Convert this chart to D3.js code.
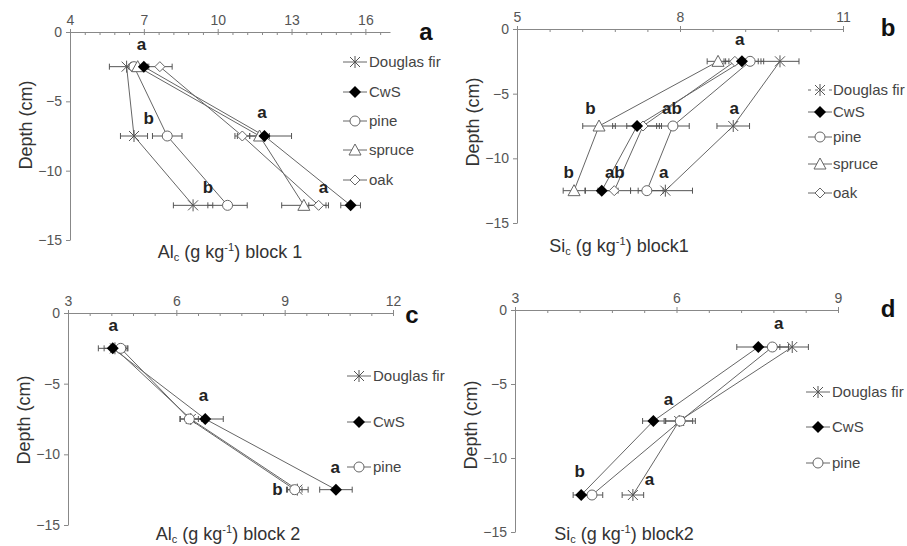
<!DOCTYPE html>
<html>
<head>
<meta charset="utf-8">
<script src="https://cdn.jsdelivr.net/npm/d3@7"></script>
<style>
  body { margin: 0; background: #fff; }
  text { font-family: "Liberation Sans", Arial, sans-serif; }
</style>
</head>
<body>
<div id="container"></div>
<script>
/* DATA */
const depths = [-2.5, -7.5, -12.5];
const yTicks = [0, -5, -10, -15];

// panel a: Al_c block 1
const aTicks = [4, 7, 10, 13, 16];
const aSeries = ["Douglas fir", "CwS", "pine", "spruce", "oak"];
const aDouglas = [6.3, 6.6, 9.0], aDouglasErr = [0.7, 0.55, 0.8];
const aCwS = [7.0, 11.9, 15.4], aCwSErr = [0.2, 1.1, 0.4];
const aPine = [6.6, 7.95, 10.4], aPineErr = [0.2, 0.6, 0.8];
const aSpruce = [6.75, 11.7, 13.5], aSpruceErr = [0.2, 0.4, 0.9];
const aOak = [7.65, 11.0, 14.1], aOakErr = [0.5, 0.3, 0.4];
const aLetters = [["a", 6.9, -1.3], ["a", 11.8, -6.2], ["b", 7.2, -6.6], ["b", 9.6, -11.6], ["a", 14.3, -11.6]];

// panel b: Si_c block 1
const bTicks = [5, 8, 11];
const bSeries = ["Douglas fir", "CwS", "pine", "spruce", "oak"];
const bDouglas = [9.84, 8.98, 7.73], bDouglasErr = [0.35, 0.3, 0.5];
const bCwS = [9.14, 7.21, 6.56], bCwSErr = [0.3, 0.45, 0.3];
const bPine = [9.29, 7.87, 7.39], bPineErr = [0.25, 0.3, 0.3];
const bSpruce = [8.70, 6.51, 6.05], bSpruceErr = [0.2, 0.3, 0.2];
const bOak = [9.01, 7.32, 6.79], bOakErr = [0.2, 0.3, 0.3];
const bLetters = [["a", 9.1, -1.2], ["b", 6.35, -6.6], ["ab", 7.85, -6.6], ["a", 9.0, -6.6], ["b", 5.95, -11.5], ["ab", 6.8, -11.5], ["a", 7.7, -11.5]];

// panel c: Al_c block 2
const cTicks = [3, 6, 9, 12];
const cSeries = ["Douglas fir", "CwS", "pine"];
const cDouglas = [4.3, 6.4, 9.35], cDouglasErr = [0.3, 0.3, 0.3];
const cCwS = [4.24, 6.8, 10.42], cCwSErr = [0.4, 0.5, 0.45];
const cPine = [4.46, 6.36, 9.28], cPineErr = [0.2, 0.25, 0.2];
const cLetters = [["a", 4.25, -1.3], ["a", 6.75, -6.2], ["a", 10.4, -11.3], ["b", 8.8, -12.9]];

// panel d: Si_c block 2
const dTicks = [3, 6, 9];
const dSeries = ["Douglas fir", "CwS", "pine"];
const dDouglas = [8.15, 6.05, 5.19], dDouglasErr = [0.3, 0.25, 0.2];
const dCwS = [7.52, 5.57, 4.23], dCwSErr = [0.4, 0.2, 0.15];
const dPine = [7.78, 6.07, 4.43], dPineErr = [0.3, 0.28, 0.2];
const dLetters = [["a", 7.9, -1.3], ["a", 5.85, -6.4], ["b", 4.2, -11.3], ["a", 5.5, -11.8]];

/* LAYOUT */
const width = 907, height = 546;
const panels = [
  { id: "a", ticks: aTicks, series: aSeries, vals: [aDouglas, aCwS, aPine, aSpruce, aOak],
    errs: [aDouglasErr, aCwSErr, aPineErr, aSpruceErr, aOakErr], letters: aLetters,
    xDom: [4, 17], xR: [70, 390], yR: [32, 240], el: "Al", eb: " block 1",
    titleX: 230, titleY: 258, depthY: 125, legX: 355, legTx: 14, legY: [62, 92, 121, 150, 180], tagX: 426, tagY: 40 },
  { id: "b", ticks: bTicks, series: bSeries, vals: [bDouglas, bCwS, bPine, bSpruce, bOak],
    errs: [bDouglasErr, bCwSErr, bPineErr, bSpruceErr, bOakErr], letters: bLetters,
    xDom: [5, 11], xR: [517, 843], yR: [29, 223], el: "Si", eb: " block1",
    titleX: 619, titleY: 252, depthY: 122, legX: 820, legTx: 13, legY: [90, 112, 137, 164, 193], tagX: 888, tagY: 36 },
  { id: "c", ticks: cTicks, series: cSeries, vals: [cDouglas, cCwS, cPine],
    errs: [cDouglasErr, cCwSErr, cPineErr], letters: cLetters,
    xDom: [3, 12], xR: [68, 393], yR: [313, 525], el: "Al", eb: " block 2",
    titleX: 228, titleY: 540, depthY: 420, legX: 359, legTx: 14, legY: [376, 422, 467], tagX: 412, tagY: 323 },
  { id: "d", ticks: dTicks, series: dSeries, vals: [dDouglas, dCwS, dPine],
    errs: [dDouglasErr, dCwSErr, dPineErr], letters: dLetters,
    xDom: [3, 9], xR: [515, 838], yR: [310, 532], el: "Si", eb: " block2",
    titleX: 624, titleY: 540, depthY: 425, legX: 818, legTx: 14, legY: [392, 427, 463], tagX: 888, tagY: 317 }
];

const lineCol = "#666", axisCol = "#888", textCol = "#333";

const svg = d3.select("#container")
  .append("svg")
  .attr("width", width)
  .attr("height", height);

// markers drawn at (0,0)
function marker(g, name) {
  if (name === "Douglas fir") {
    g.append("path").attr("d", "M-5,-5L5,5M-5,5L5,-5M0,-6L0,6")
      .attr("stroke", "#555").attr("fill", "none");
  } else if (name === "CwS") {
    g.append("path").attr("d", "M0,-6L6,0L0,6L-6,0Z").attr("fill", "#000");
  } else if (name === "pine") {
    g.append("circle").attr("r", 5).attr("fill", "#fff").attr("stroke", "#666");
  } else if (name === "spruce") {
    g.append("path").attr("d", "M0,-6L6,5L-6,5Z").attr("fill", "#fff").attr("stroke", "#666");
  } else if (name === "oak") {
    g.append("path").attr("d", "M0,-5L5,0L0,5L-5,0Z").attr("fill", "#fff").attr("stroke", "#666");
  }
}

panels.forEach(p => {
  const x = d3.scaleLinear().domain(p.xDom).range(p.xR);
  const y = d3.scaleLinear().domain([0, -15]).range(p.yR);
  const g = svg.append("g");

  // x axis at top
  const step = p.ticks[1] - p.ticks[0];
  const minor = d3.range(p.xDom[0], p.xDom[1] + 0.01, step / 5);
  g.append("g")
    .attr("transform", `translate(0,${p.yR[0]})`)
    .call(d3.axisTop(x).tickValues(minor).tickSize(-3).tickFormat(""))
    .call(a => a.select(".domain").remove())
    .selectAll("line").attr("stroke", axisCol);
  const xa = g.append("g")
    .attr("transform", `translate(0,${p.yR[0]})`)
    .call(d3.axisTop(x).tickValues(p.ticks).tickFormat(d3.format("d"))
      .tickSizeInner(3).tickSizeOuter(0).tickPadding(4));
  xa.select(".domain").attr("stroke", axisCol);
  xa.selectAll("line").attr("stroke", axisCol);
  xa.selectAll("text").attr("fill", "#555").style("font-size", "14px");

  // y axis
  const ya = g.append("g")
    .attr("transform", `translate(${p.xR[0]},0)`)
    .call(d3.axisLeft(y).tickValues(yTicks).tickSizeInner(4).tickSizeOuter(0).tickPadding(4));
  ya.select(".domain").attr("stroke", axisCol);
  ya.selectAll("line").attr("stroke", axisCol);
  ya.selectAll("text").attr("fill", "#555").style("font-size", "14px");

  // titles
  const t = g.append("text")
    .attr("x", p.titleX).attr("y", p.titleY)
    .attr("text-anchor", "middle").attr("fill", textCol).style("font-size", "18px");
  t.append("tspan").text(p.el);
  t.append("tspan").attr("dy", 3).style("font-size", "11px").text("c");
  t.append("tspan").attr("dy", -3).text(" (g kg");
  t.append("tspan").attr("dy", -7).style("font-size", "11px").text("-1");
  t.append("tspan").attr("dy", 7).text(")" + p.eb);

  g.append("text")
    .attr("transform", `translate(${p.xR[0] - 38},${p.depthY}) rotate(-90)`)
    .attr("text-anchor", "middle").attr("fill", textCol).style("font-size", "18px")
    .text("Depth (cm)");

  g.append("text")
    .attr("x", p.tagX).attr("y", p.tagY)
    .attr("text-anchor", "middle").attr("fill", "#111")
    .style("font-size", "24px").style("font-weight", "bold")
    .text(p.id);

  // series lines
  const line = d3.line().x(d => x(d[0])).y(d => y(d[1]));
  p.vals.forEach((v, i) => {
    g.append("path")
      .datum(v.map((val, j) => [val, depths[j]]))
      .attr("d", line)
      .attr("fill", "none").attr("stroke", lineCol).attr("stroke-width", 1);
  });

  // error bars
  p.vals.forEach((v, i) => {
    v.forEach((val, j) => {
      const e = p.errs[i][j], yy = y(depths[j]);
      const eg = g.append("g").attr("stroke", "#555").attr("stroke-width", 1);
      eg.append("line").attr("x1", x(val - e)).attr("x2", x(val + e)).attr("y1", yy).attr("y2", yy);
      [val - e, val + e].forEach(c => {
        eg.append("line").attr("x1", x(c)).attr("x2", x(c)).attr("y1", yy - 3).attr("y2", yy + 3);
      });
    });
  });

  // markers (CwS drawn last so it sits on top)
  const order = p.series.map((s, i) => i).sort((a, b) => (p.series[a] === "CwS") - (p.series[b] === "CwS"));
  order.forEach(i => {
    p.vals[i].forEach((val, j) => {
      const mg = g.append("g").attr("transform", `translate(${x(val)},${y(depths[j])})`);
      marker(mg, p.series[i]);
    });
  });

  // significance letters
  p.letters.forEach(l => {
    g.append("text")
      .attr("x", x(l[1])).attr("y", y(l[2]))
      .attr("text-anchor", "middle").attr("fill", "#222")
      .style("font-size", "17px").style("font-weight", "bold")
      .text(l[0]);
  });

  // legend
  p.series.forEach((s, i) => {
    const ly = p.legY[i];
    const lg = g.append("g").attr("transform", `translate(${p.legX},${ly})`);
    lg.append("line").attr("x1", -12).attr("x2", 12).attr("y1", 0).attr("y2", 0)
      .attr("stroke", "#666")
      .attr("stroke-dasharray", (p.id === "b" && s === "Douglas fir") ? "3,4" : null);
    marker(lg, s);
    lg.append("text").attr("x", p.legTx).attr("y", 5)
      .attr("fill", "#444").style("font-size", "15px").text(s);
  });
});
</script>
</body>
</html>
